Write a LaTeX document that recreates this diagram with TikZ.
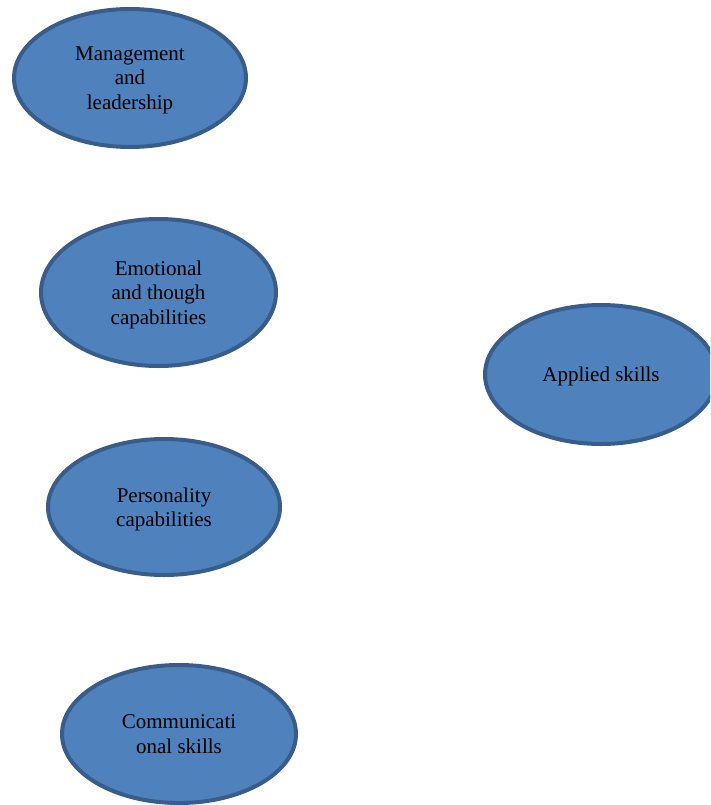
\documentclass[tikz,border=0pt]{standalone}
\usepackage{fontspec}
\setmainfont{Liberation Serif}
\usepackage{tikz}
\usetikzlibrary{shapes.geometric}
\definecolor{sfill}{HTML}{4F81BD}
\definecolor{sedge}{HTML}{385D8A}

\begin{document}
\begin{tikzpicture}[x=1pt, y=-1pt,
  skill/.style={ellipse, draw=sedge, fill=sfill, line width=4pt, inner sep=0pt,
    align=center, font=\fontsize{21}{24.5}\selectfont, text depth=0pt,
    minimum width=232pt}]
\useasboundingbox (0,0) rectangle (710,805);
\clip (0,0) rectangle (710,805);
% left column
\node[skill, minimum height=138pt] (mgmt) at (130,78) {Management\\and\\leadership};
\node[skill, minimum width=235pt, minimum height=147pt] (emot) at (158.5,292.5) {Emotional\\and though\\capabilities};
\node[skill, minimum height=136pt] (pers) at (164,507) {Personality\\capabilities};
\node[skill, minimum width=234pt, minimum height=138pt] (comm) at (179,734) {Communicati\\onal skills};
% right
\node[skill, minimum height=139pt] (appl) at (601,374.5) {Applied skills};
\end{tikzpicture}
\end{document}
